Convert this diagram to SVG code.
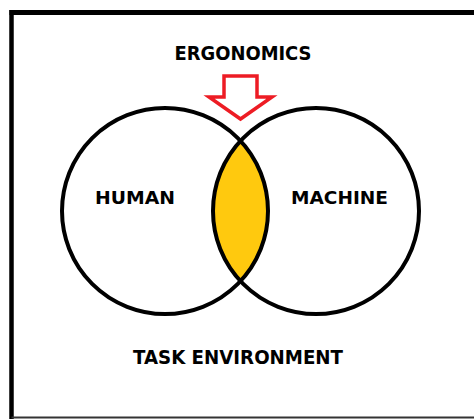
<svg xmlns="http://www.w3.org/2000/svg" width="474" height="419" viewBox="0 0 474 419">
  <style>
    .label { font-family: "DejaVu Sans", "Liberation Sans", sans-serif; font-weight: bold; fill: #000; text-anchor: middle; }
    .ring { fill: none; stroke: #000; stroke-width: 4; }
  </style>
  <rect width="474" height="419" fill="#fff"/>
  <!-- outer frame (right side runs off the canvas) -->
  <g id="frame" fill="none" stroke="#000">
    <line x1="9.5" y1="12.5" x2="474" y2="12.5" stroke-width="5"/>
    <line x1="11.5" y1="10" x2="11.5" y2="419" stroke-width="4.5"/>
    <line x1="11.5" y1="417.5" x2="474" y2="417.5" stroke="#333" stroke-width="2"/>
  </g>

  <g id="overlap">
    <path d="M240.5 141 A103 103 0 0 1 240.5 281 A103 103 0 0 1 240.5 141 Z" fill="#FFC90E"/>
  </g>
  <g id="human">
    <circle class="ring" cx="165" cy="211" r="103"/>
    <text class="label" x="135" y="204" font-size="18.5" textLength="80" lengthAdjust="spacingAndGlyphs">HUMAN</text>
  </g>
  <g id="machine">
    <circle class="ring" cx="316" cy="211" r="103"/>
    <text class="label" x="339.5" y="204" font-size="18.5" textLength="97" lengthAdjust="spacingAndGlyphs">MACHINE</text>
  </g>
  <g id="ergonomics">
    <text class="label" x="243" y="60" font-size="19" textLength="137" lengthAdjust="spacingAndGlyphs">ERGONOMICS</text>
  </g>
  <g id="connectors">
    <path d="M224 76 H257 V97 H272 L240.5 119 L209 97 H224 Z" fill="#fff" stroke="#ED1C24" stroke-width="3.5" stroke-linejoin="miter"/>
  </g>
  <g id="task-environment">
    <text class="label" x="238" y="364" font-size="19" textLength="210" lengthAdjust="spacingAndGlyphs">TASK ENVIRONMENT</text>
  </g>
</svg>
